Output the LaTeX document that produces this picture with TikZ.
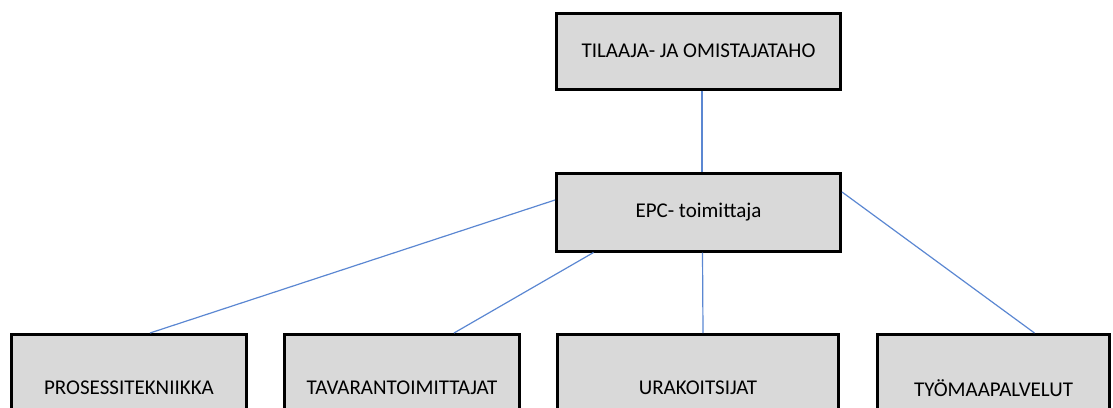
\documentclass[tikz,border=0pt]{standalone}
\usepackage{fontspec}
\setmainfont{Carlito}
\usetikzlibrary{positioning}
\definecolor{boxgray}{RGB}{217,217,217}
\definecolor{linkblue}{RGB}{91,135,210}
\tikzset{
    org/.style={x=1pt,y=-1pt,font=\fontsize{21}{25}\selectfont},
    unit/.style={rectangle,draw=black,line width=3pt,fill=boxgray,
                 minimum width=284pt,minimum height=76pt,inner sep=0pt},
    part/.style={unit,minimum width=235pt,minimum height=107pt},
    link/.style={draw=linkblue,line width=1.2pt},
    }
\begin{document}
\begin{tikzpicture}[org]
    \path[use as bounding box,clip] (0,0) rectangle (1113,407);

    \node[unit] (owner) at (698.5,51) {TILAAJA- JA OMISTAJATAHO};
    \node[unit,minimum height=78pt] (epc) at (698.5,212) {EPC- toimittaja};

    \node[part] (process) at (129,388) {PROSESSITEKNIIKKA};
    \node[part] (supply) at (402,388) {TAVARANTOIMITTAJAT};
    \node[part,minimum width=281pt] (contract) at (698,388) {URAKOITSIJAT};
    \node[part,minimum width=232pt] (site) at (993.5,388) {TYÖMAAPALVELUT};

    \path[link] ([xshift=3.5pt]owner.south) -- ([xshift=3.5pt]epc.north);
    \path[link] ([yshift=12pt]epc.west) -- ([xshift=21pt]process.north);
    \path[link] ([xshift=-105pt]epc.south) -- ([xshift=52pt]supply.north);
    \path[link] ([xshift=4pt]epc.south) -- ([xshift=5pt]contract.north);
    \path[link] ([yshift=20pt]epc.east) -- ([xshift=41pt]site.north);
\end{tikzpicture}
\end{document}
